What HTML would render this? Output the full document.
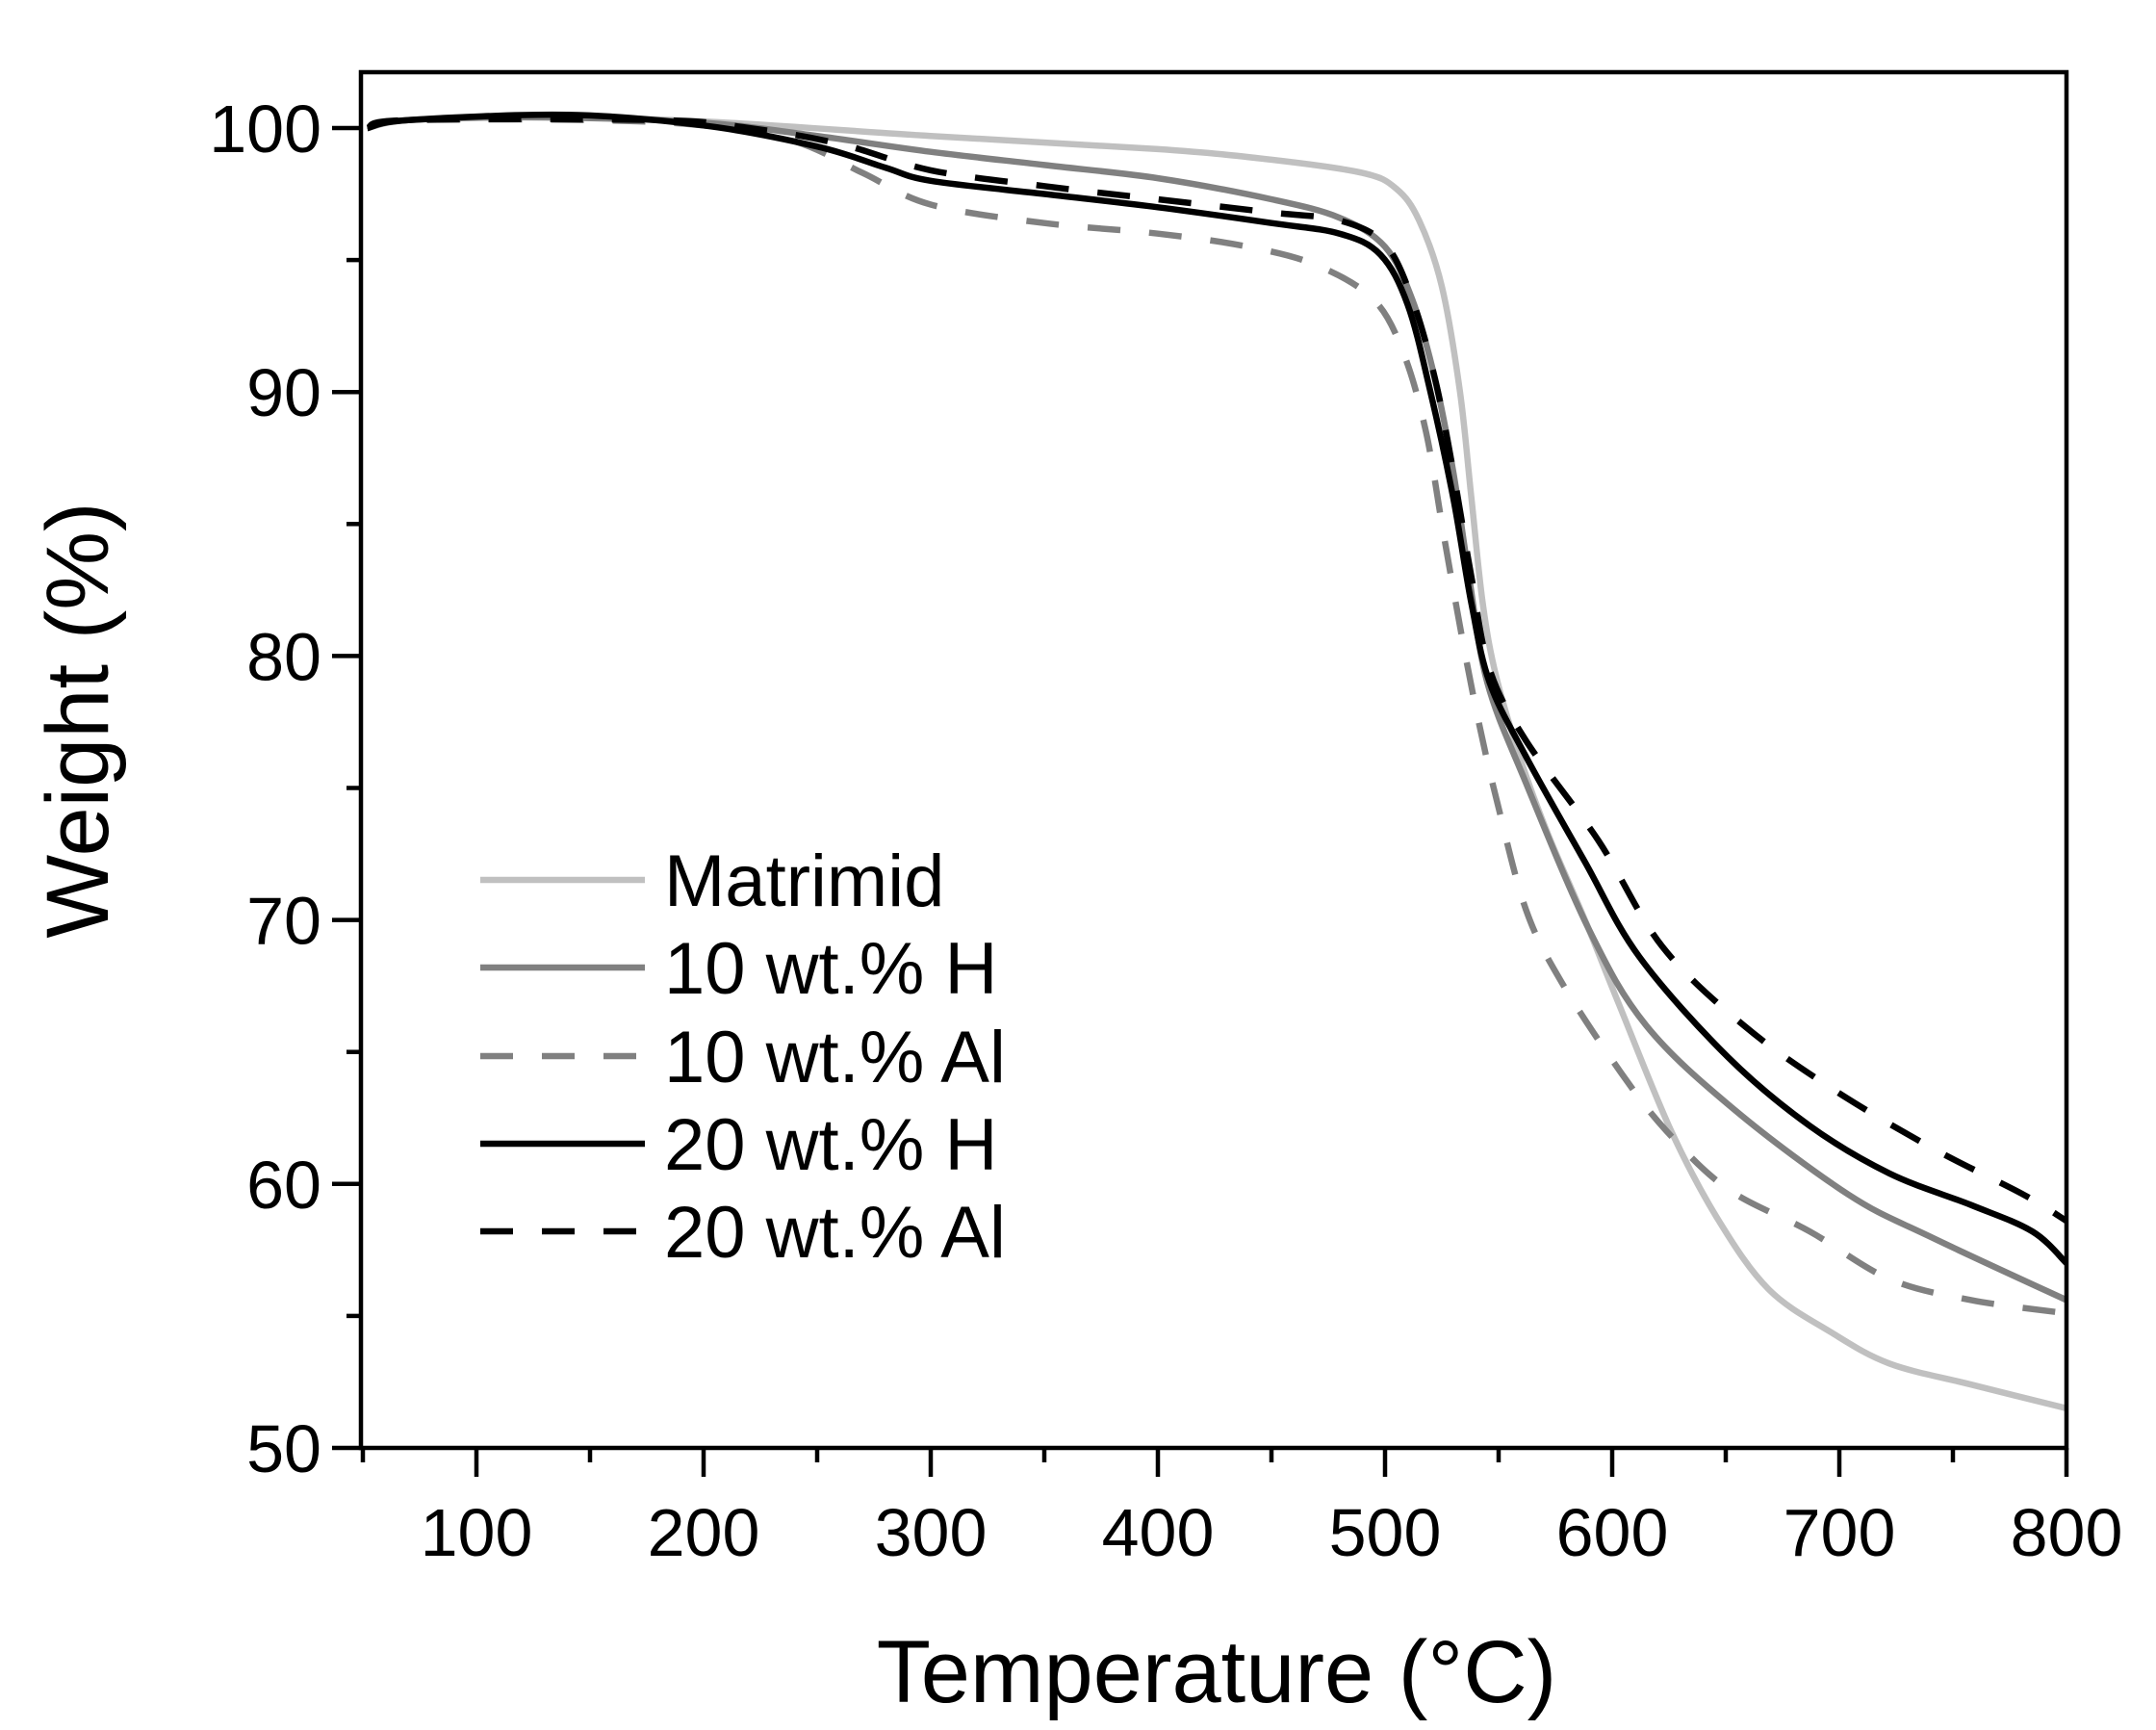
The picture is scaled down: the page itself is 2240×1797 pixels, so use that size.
<!DOCTYPE html>
<html><head><meta charset="utf-8"><style>html,body{margin:0;padding:0;background:#fff}svg{display:block}</style></head>
<body>
<svg id="s" width="2240" height="1797" viewBox="0 0 2240 1797" xmlns="http://www.w3.org/2000/svg" font-family="Liberation Sans, Arial, sans-serif">
<defs><clipPath id="c"><rect x="375" y="75" width="1772" height="1429"/></clipPath></defs>
<g id="curves" clip-path="url(#c)" fill="none" stroke-width="6.5" stroke-linejoin="round"></g>
<g id="axes" stroke="#000" stroke-width="4.5" fill="none">
<rect x="375" y="75" width="1772" height="1429"/>
</g>
<g id="ticks" stroke="#000" stroke-width="4.5"></g>
<g id="labels" font-size="70" fill="#000"></g>
<text x="1264" y="1768" font-size="92" text-anchor="middle">Temperature (°C)</text>
<text transform="translate(112,748) rotate(-90)" font-size="92" text-anchor="middle">Weight (%)</text>
<g font-size="76" fill="#000">
<line x1="499" y1="914" x2="670" y2="914" stroke="#c0c0c0" stroke-width="6.5"/>
<text x="690" y="941">Matrimid</text>
<line x1="499" y1="1005" x2="670" y2="1005" stroke="#808080" stroke-width="6.5"/>
<text x="690" y="1032">10 wt.% H</text>
<line x1="499" y1="1097" x2="670" y2="1097" stroke="#808080" stroke-width="6.5" stroke-dasharray="34,30"/>
<text x="690" y="1124">10 wt.% Al</text>
<line x1="499" y1="1188" x2="670" y2="1188" stroke="#000" stroke-width="6.5"/>
<text x="690" y="1215">20 wt.% H</text>
<line x1="499" y1="1279" x2="670" y2="1279" stroke="#000" stroke-width="6.5" stroke-dasharray="34,30"/>
<text x="690" y="1306">20 wt.% Al</text>
</g>
</svg>
<script>
var NS="http://www.w3.org/2000/svg";
function X(t){return 259+2.36*t;}
function Y(w){return 2875-27.42*w;}
function el(p,tag,a,txt){var e=document.createElementNS(NS,tag);for(var k in a)e.setAttribute(k,a[k]);if(txt)e.textContent=txt;p.appendChild(e);return e;}
var tk=document.getElementById('ticks'),lb=document.getElementById('labels');
for(var t=50;t<=800;t+=50){var maj=t%100==0;el(tk,'line',{x1:X(t),y1:1504,x2:X(t),y2:1504+(maj?30:15)});
if(maj)el(lb,'text',{x:X(t),y:1616,'text-anchor':'middle'},String(t));}
for(var w=50;w<=100;w+=5){var maj=w%10==0;el(tk,'line',{x1:375,y1:Y(w),x2:375-(maj?30:15),y2:Y(w)});
if(maj)el(lb,'text',{x:334,y:Y(w)+25,'text-anchor':'end'},String(w));}
var data=[
["#c0c0c0","",[[52,100],[70,100.3],[120,100.45],[200,100.25],[300,99.7],[400,99.2],[450,98.8],[490,98.3],[505,97.7],[515,96.5],[525,94],[533,90],[538,86],[543,82],[549,79.2],[560,76],[572,73.2],[588,70],[603,66.8],[626,62],[647,58.6],[669,56],[696,54.4],[722,53.2],[758,52.4],[800,51.5]]],
["#808080","",[[52,100],[70,100.3],[130,100.4],[200,100.2],[250,99.7],[300,99.1],[350,98.6],[400,98.1],[450,97.3],[480,96.6],[500,95.5],[512,93.5],[522,90.5],[530,87],[537,83],[545,79],[562,75.2],[590,69.6],[615,66],[654,62.8],[704,59.6],[740,58],[800,55.6]]],
["#808080","34,30",[[52,100],[70,100.3],[150,100.3],[200,100.1],[240,99.5],[270,98.3],[300,97.1],[350,96.4],[400,96],[440,95.5],[470,94.8],[495,93.5],[508,91.5],[518,88.5],[526,84.5],[535,80.2],[542,77.2],[549,74.6],[562,70.4],[578,67.6],[604,64.2],[624,62],[651,59.8],[687,58.2],[722,56.4],[758,55.6],[800,55.1]]],
["#000","",[[52,100],[70,100.3],[140,100.5],[200,100.1],[250,99.3],[280,98.5],[300,98],[350,97.5],[400,97],[450,96.4],[480,96],[498,95.2],[510,93.3],[520,90],[530,86],[538,82],[546,79],[562,76.2],[588,72.2],[612,68.6],[651,64.8],[687,62.2],[722,60.4],[758,59.2],[785,58.2],[800,57]]],
["#000","34,30",[[52,100],[70,100.3],[180,100.3],[220,100],[260,99.4],[300,98.4],[350,97.8],[400,97.3],[450,96.8],[480,96.5],[500,95.6],[512,93.5],[522,90.5],[530,87],[538,83],[546,79.5],[562,76.8],[594,73],[622,69],[658,66],[697,63.6],[740,61.4],[781,59.6],[800,58.6]]]
];
var g=document.getElementById('curves');
data.forEach(function(s){var p=s[2].map(function(q){return[X(q[0]),Y(q[1])];});
var d="M"+p[0][0].toFixed(1)+","+p[0][1].toFixed(1);
for(var i=0;i<p.length-1;i++){var p0=p[i-1]||p[i],p1=p[i],p2=p[i+1],p3=p[i+2]||p2;
var c1=[p1[0]+(p2[0]-p0[0])/6,p1[1]+(p2[1]-p0[1])/6],c2=[p2[0]-(p3[0]-p1[0])/6,p2[1]-(p3[1]-p1[1])/6];
d+=" C"+c1.map(function(v){return v.toFixed(1)}).join(",")+" "+c2.map(function(v){return v.toFixed(1)}).join(",")+" "+p2[0].toFixed(1)+","+p2[1].toFixed(1);}
var a={d:d,stroke:s[0]};if(s[1])a["stroke-dasharray"]=s[1];el(g,'path',a);});
</script>
</body></html>
